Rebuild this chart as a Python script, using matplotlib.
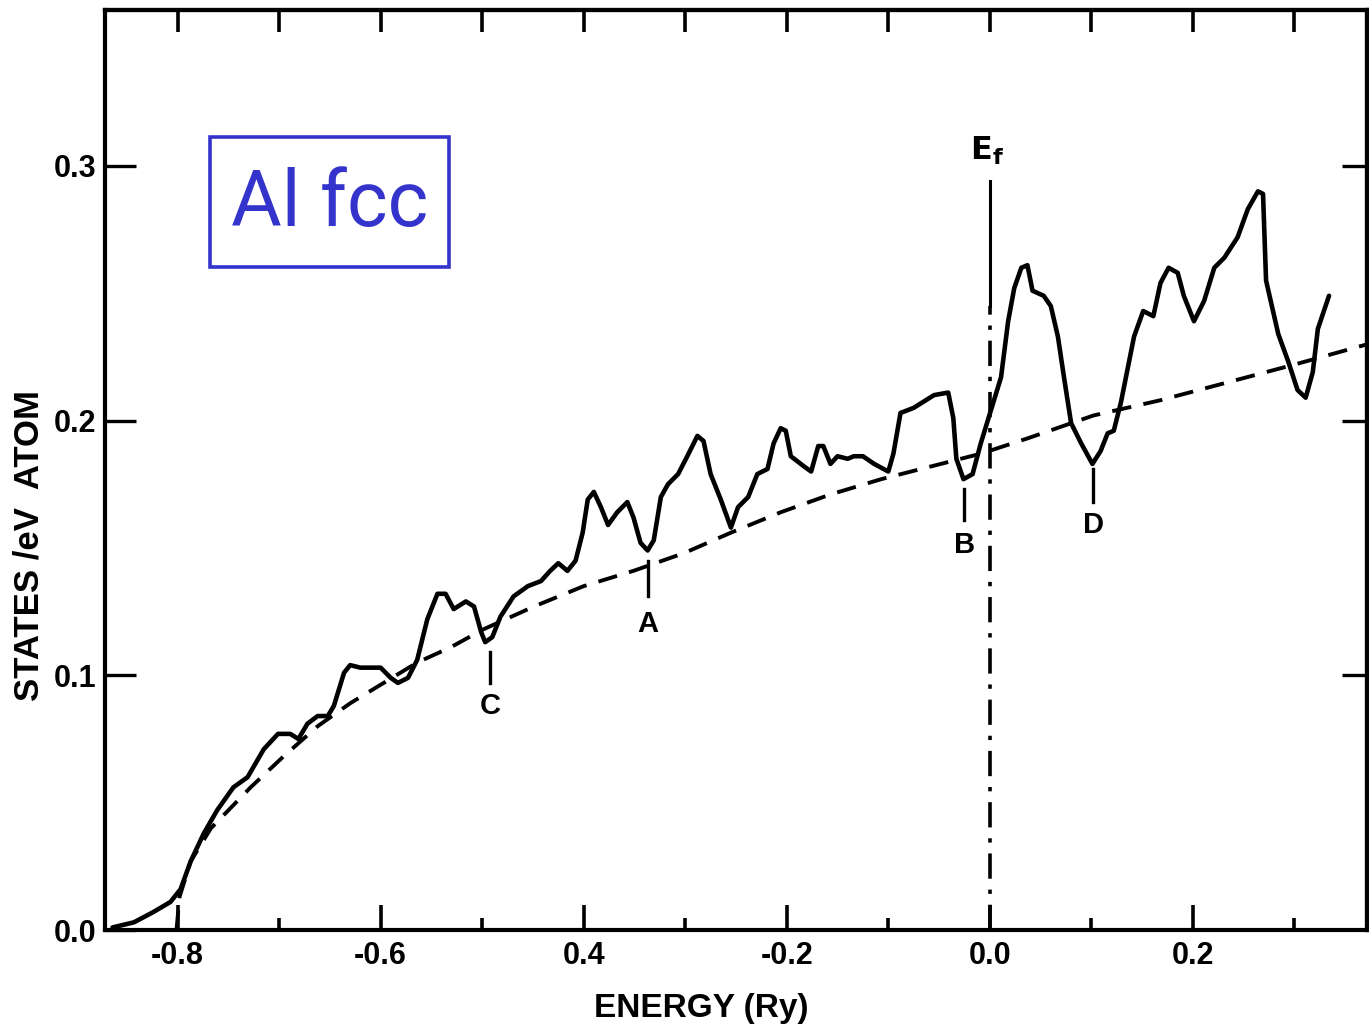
import matplotlib
matplotlib.use("Agg")
import matplotlib.pyplot as plt
from matplotlib.patches import Rectangle
from matplotlib.ticker import MultipleLocator, FixedLocator

# ---------------- data ----------------
energy_dos = [-0.864, -0.843, -0.824, -0.807, -0.797, -0.787, -0.774, -0.761, -0.745, -0.731,
              -0.715, -0.701, -0.689, -0.681, -0.672, -0.662, -0.652, -0.646, -0.636, -0.630,
              -0.620, -0.612, -0.600, -0.590, -0.583, -0.573, -0.564, -0.554, -0.544, -0.536,
              -0.528, -0.516, -0.508, -0.501, -0.497, -0.490, -0.482, -0.469, -0.455, -0.442,
              -0.433, -0.425, -0.416, -0.408, -0.401, -0.396, -0.390, -0.383, -0.376, -0.367,
              -0.357, -0.351, -0.344, -0.337, -0.331, -0.324, -0.317, -0.307, -0.298, -0.288,
              -0.282, -0.275, -0.265, -0.255, -0.248, -0.238, -0.229, -0.219, -0.213, -0.206,
              -0.201, -0.196, -0.183, -0.176, -0.169, -0.164, -0.157, -0.150, -0.140, -0.134,
              -0.125, -0.114, -0.100, -0.095, -0.088, -0.075, -0.055, -0.041, -0.036, -0.033,
              -0.026, -0.017, -0.009, 0.001, 0.011, 0.018, 0.024, 0.031, 0.037, 0.042,
              0.053, 0.060, 0.067, 0.073, 0.080, 0.090, 0.101, 0.109, 0.116, 0.122,
              0.129, 0.142, 0.151, 0.161, 0.168, 0.176, 0.185, 0.191, 0.201, 0.211,
              0.221, 0.231, 0.244, 0.254, 0.264, 0.269, 0.272, 0.284, 0.294, 0.303,
              0.311, 0.318, 0.323, 0.334]
states_dos = [0.001, 0.003, 0.007, 0.011, 0.016, 0.027, 0.038, 0.047, 0.056, 0.060,
              0.071, 0.077, 0.077, 0.075, 0.081, 0.084, 0.084, 0.088, 0.101, 0.104,
              0.103, 0.103, 0.103, 0.099, 0.097, 0.099, 0.106, 0.122, 0.132, 0.132,
              0.126, 0.129, 0.127, 0.117, 0.113, 0.115, 0.123, 0.131, 0.135, 0.137,
              0.141, 0.144, 0.141, 0.145, 0.156, 0.169, 0.172, 0.166, 0.159, 0.164,
              0.168, 0.162, 0.152, 0.149, 0.153, 0.170, 0.175, 0.179, 0.186, 0.194,
              0.192, 0.179, 0.169, 0.158, 0.166, 0.170, 0.179, 0.181, 0.191, 0.197,
              0.196, 0.186, 0.182, 0.180, 0.190, 0.190, 0.183, 0.186, 0.185, 0.186,
              0.186, 0.183, 0.180, 0.187, 0.203, 0.205, 0.210, 0.211, 0.201, 0.185,
              0.177, 0.179, 0.191, 0.204, 0.217, 0.239, 0.252, 0.260, 0.261, 0.251,
              0.249, 0.245, 0.233, 0.217, 0.199, 0.191, 0.183, 0.188, 0.195, 0.196,
              0.207, 0.233, 0.243, 0.241, 0.254, 0.260, 0.258, 0.249, 0.239, 0.247,
              0.260, 0.264, 0.272, 0.283, 0.290, 0.289, 0.255, 0.234, 0.223, 0.212,
              0.209, 0.219, 0.236, 0.249]

energy_free = [-0.801, -0.798, -0.787, -0.767, -0.745, -0.728, -0.696, -0.662, -0.630, -0.597,
               -0.564, -0.531, -0.499, -0.449, -0.400, -0.351, -0.301, -0.255, -0.206, -0.157,
               -0.107, -0.058, -0.009, 0.037, 0.102, 0.168, 0.234, 0.300, 0.372]
states_free = [0.000, 0.013, 0.027, 0.040, 0.049, 0.056, 0.068, 0.080, 0.089, 0.097,
               0.105, 0.111, 0.118, 0.127, 0.135, 0.141, 0.148, 0.156, 0.164, 0.171,
               0.177, 0.182, 0.187, 0.193, 0.202, 0.208, 0.215, 0.222, 0.230]

fermi_energy = 0.0
fermi_top = 0.294

marker_names = ["C", "A", "B", "D"]
marker_energy = [-0.492, -0.337, -0.025, 0.102]
marker_low = [0.097, 0.131, 0.161, 0.168]
marker_high = [0.109, 0.145, 0.173, 0.181]
marker_label_y = [0.088, 0.120, 0.151, 0.159]

x_tick_values = [-0.8, -0.6, -0.4, -0.2, 0.0, 0.2]
x_tick_labels = ["-0.8", "-0.6", "0.4", "-0.2", "0.0", "0.2"]
y_tick_values = [0.0, 0.1, 0.2, 0.3]
y_tick_labels = ["0.0", "0.1", "0.2", "0.3"]

# ---------------- figure ----------------
plt.rcParams['font.family'] = ['Liberation Sans', 'DejaVu Sans']
plt.rcParams['font.weight'] = 'bold'

fig = plt.figure(figsize=(13.69, 10.30), dpi=100)
ax = fig.add_axes([105 / 1369, 100 / 1030, (1367 - 105) / 1369, (930 - 10) / 1030])
ax.set_xlim(-0.8714, 0.3714)
ax.set_ylim(0.0, 0.3612)

ax.plot(energy_dos, states_dos, color='black', lw=3.3, solid_joinstyle='round',
        solid_capstyle='round')
ax.plot(energy_free, states_free, color='black', lw=2.8, linestyle=(0, (5.0, 3.2)))

# Fermi level
ax.plot([fermi_energy, fermi_energy], [0.245, fermi_top], color='black', lw=2.2)
ax.plot([fermi_energy, fermi_energy], [0.0, 0.245], color='black', lw=2.6,
        linestyle=(0, (7, 3, 1.2, 3)))
ax.text(fermi_energy - 0.003, 0.306, r'$\mathbf{E_f}$', ha='center', va='center', fontsize=23)

for name, xe, lo, hi, ly in zip(marker_names, marker_energy, marker_low, marker_high, marker_label_y):
    ax.plot([xe, xe], [lo, hi], color='black', lw=2.4)
    ax.text(xe, ly, name, ha='center', va='center', fontsize=21, fontweight='bold')

# ticks
ax.xaxis.set_major_locator(FixedLocator(x_tick_values))
ax.set_xticklabels(x_tick_labels)
ax.xaxis.set_minor_locator(MultipleLocator(0.1))
ax.yaxis.set_major_locator(FixedLocator(y_tick_values))
ax.set_yticklabels(y_tick_labels)
ax.tick_params(axis='x', which='major', direction='in', length=18, width=2.6, pad=8,
               labelsize=22)
ax.tick_params(axis='x', which='minor', direction='in', length=9, width=2.6)
ax.tick_params(axis='y', which='major', direction='in', length=22, width=2.4, pad=6,
               labelsize=22)
for lab in ax.get_xticklabels() + ax.get_yticklabels():
    lab.set_fontweight('bold')

top = ax.secondary_xaxis('top')
top.xaxis.set_major_locator(MultipleLocator(0.1))
top.tick_params(direction='in', length=16, width=2.6, labeltop=False)
right = ax.secondary_yaxis('right')
right.yaxis.set_major_locator(FixedLocator([0.1, 0.2, 0.3]))
right.tick_params(direction='in', length=18, width=2.4, labelright=False)

for sp in list(ax.spines.values()) + [top.spines['top'], right.spines['right']]:
    sp.set_linewidth(3.0)

ax.set_xlabel("ENERGY (Ry)", fontsize=24, fontweight='bold')
ax.xaxis.set_label_coords((701 - 105) / 1262, -0.068)
ax.set_ylabel("STATES /eV  ATOM", fontsize=25, fontweight='bold')
ax.yaxis.set_label_coords(-0.047, 0.418)

# Al fcc box
ax.add_patch(Rectangle((0.0832, 0.7207), 0.1894, 0.1413, transform=ax.transAxes,
                       fill=False, edgecolor='#3434cc', lw=2.6, zorder=5))
ax.text(0.1783, 0.789, "Al fcc", transform=ax.transAxes, ha='center', va='center',
        fontsize=56, color='#3434cc', fontweight='normal', family=['Roboto', 'DejaVu Sans'])

fig.savefig("out.png", dpi=100)
